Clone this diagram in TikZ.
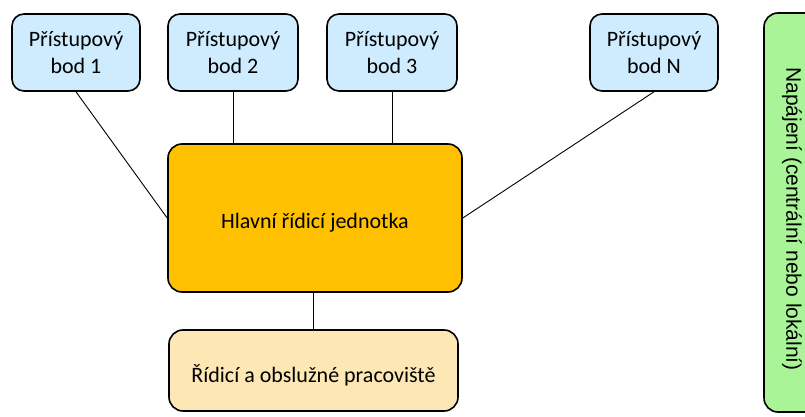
\documentclass[tikz,border=0pt]{standalone}
\usepackage{fontspec}
\setmainfont{Carlito}
\newfontfamily\arialfont{Liberation Sans}
\usepackage{tikz}
\usetikzlibrary{calc}

\definecolor{apblue}{RGB}{206,236,253}
\definecolor{mainorange}{RGB}{255,192,0}
\definecolor{wsbeige}{RGB}{253,231,180}
\definecolor{pwrgreen}{RGB}{168,244,150}

\tikzset{
  apbox/.style={draw, line width=1.6pt, rounded corners=12pt, fill=apblue,
    minimum width=128pt, minimum height=77pt, align=center, font=\fontsize{22}{27}\selectfont,
    execute at begin node={\rule{0pt}{21pt}}},
  mainbox/.style={draw, line width=1.6pt, rounded corners=14pt, fill=mainorange,
    minimum width=294pt, minimum height=148pt, font=\fontsize{22}{26.5}\selectfont,
    execute at begin node={\rule{0pt}{24pt}}},
  wsbox/.style={draw, line width=1.6pt, rounded corners=14pt, fill=wsbeige,
    minimum width=289pt, minimum height=81pt, font=\fontsize{22}{26.5}\selectfont,
    execute at begin node={\rule{0pt}{27pt}}},
  link/.style={line width=0.9pt}
}

\begin{document}
\begin{tikzpicture}[x=1pt, y=-1pt]
		\clip (0,0) rectangle (805,417);
		\fill[white] (0,0) rectangle (805,417);

		% access points
		\node[apbox] (ap1) at (76,52.5) {Přístupový\\bod 1};
		\node[apbox, minimum width=130pt] (ap2) at (233,52.5) {Přístupový\\bod 2};
		\node[apbox, minimum width=130pt] (ap3) at (392,52.5) {Přístupový\\bod 3};
		\node[apbox] (apN) at (654,52.5) {Přístupový\\bod N};

		% control unit and workplace
		\node[mainbox] (main) at (315,218) {Hlavní řídicí jednotka};
		\node[wsbox] (ws) at (313.5,370.5) {Řídicí a obslužné pracoviště};

		% power supply
		\draw[line width=1.6pt, rounded corners=14pt, fill=pwrgreen] (764,13) rectangle (830,412);
		\node[rotate=-90] (pwr) at (792,219) {\arialfont\fontsize{21}{25}\selectfont Napájení (centrální nebo lokální)};

		\draw[link] (ap1.south) -- (main.west);
		\draw[link] (ap2.south) -- (ap2.south |- main.north);
		\draw[link] (ap3.south) -- (ap3.south |- main.north);
		\draw[link] (apN.south) -- (main.east);
		\draw[link] (ws.north) -- (ws.north |- main.south);
	\end{tikzpicture}
\end{document}
